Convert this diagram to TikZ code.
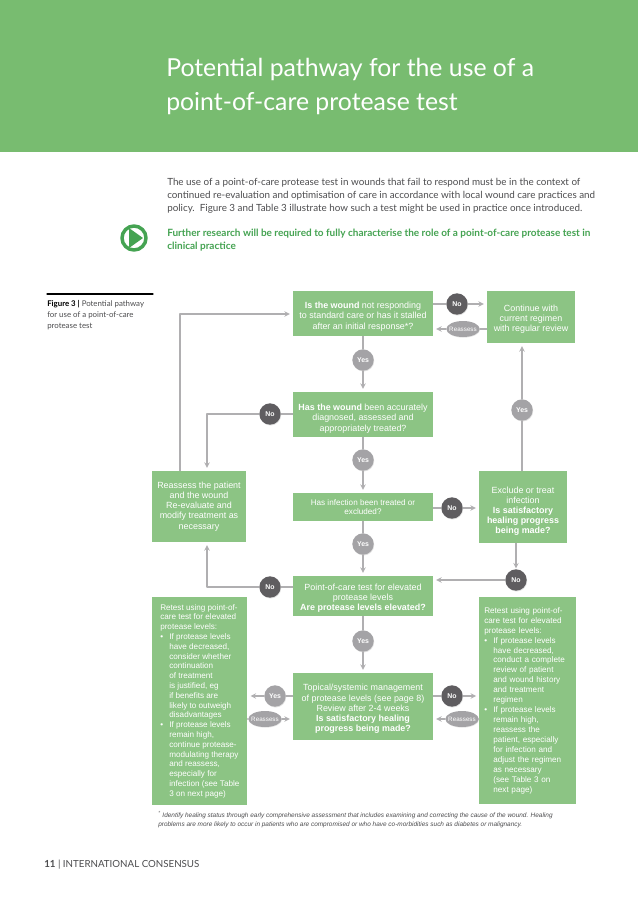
\documentclass[tikz,border=0pt]{standalone}
\usepackage{fontspec}
\setmainfont{Liberation Sans}
\newfontfamily\bodyfont{Lato}
\usetikzlibrary{shadows,shapes.geometric}
\definecolor{bandgreen}{HTML}{78BC70}
\definecolor{boxgreen}{HTML}{8CC484}
\definecolor{leadgreen}{HTML}{45A352}
\definecolor{linegray}{HTML}{B0AFB1}
\definecolor{dotgray}{HTML}{A4A3A6}
\definecolor{nodark}{HTML}{5F5D60}
\definecolor{bodygray}{HTML}{4D4D4F}
\newcommand{\blt}{\makebox[6.8pt][l]{\textbullet}}
\newcommand{\ind}{\hspace*{6.8pt}}
\tikzset{
  flowbox/.style={fill=boxgreen,text=white,align=center,inner sep=0pt,
    font=\fontsize{6.7}{7.6}\selectfont},
  listbox/.style={flowbox,align=left,anchor=north west,
    font=\fontsize{6.1}{7.35}\selectfont},
  yesdot/.style={circle,fill=dotgray,text=white,minimum size=16pt,inner sep=0pt,
    font=\bfseries\fontsize{5.2}{6}\selectfont,
    drop shadow={opacity=.25,shadow xshift=.4pt,shadow yshift=-.6pt}},
  nodot/.style={yesdot,fill=nodark},
  reassess/.style={ellipse,fill=dotgray,text=white,minimum width=25pt,minimum height=12pt,
    inner sep=0pt,font=\fontsize{4.7}{5}\selectfont,
    drop shadow={opacity=.2,shadow xshift=.3pt,shadow yshift=-.5pt}},
  flow/.style={draw=linegray,line width=.8pt},
  flowarrow/.style={flow,->,shorten >=2.2pt},
  para/.style={anchor=base west,inner sep=0pt,align=left}
}
\begin{document}
\begin{tikzpicture}[x=.75pt,y=-.75pt,line join=round,line cap=round,>=stealth]
\useasboundingbox (0,0) rectangle (638,903);
\fill[white] (0,0) rectangle (638,903);
\fill[bandgreen] (0,0) rectangle (638,152);
% heading and lead text
\node[para,text=white,font=\bodyfont\fontsize{18.6}{25.5}\selectfont] (title) at (166,110)
  {Potential pathway for the use of a\\point-of-care protease test};
\node[para,text=bodygray,font=\bodyfont\fontsize{7.38}{9.4}\selectfont] (lead) at (167,211)
  {The use of a point-of-care protease test in wounds that fail to respond must be in the context of\\
   continued re-evaluation and optimisation of care in accordance with local wound care practices and\\
   policy.\ \ Figure 3 and Table 3 illustrate how such a test might be used in practice once introduced.};
\node[para,text=leadgreen,font=\bodyfont\bfseries\fontsize{7.5}{9.7}\selectfont] (further) at (167,249)
  {Further research will be required to fully characterise the role of a point-of-care protease test in\\
   clinical practice};
\node[circle,draw=leadgreen,line width=2.6pt,minimum size=18pt,inner sep=0pt] (playring) at (134,238) {};
\fill[leadgreen] (129,228) -- (143,238) -- (129,248) -- cycle;
% caption
\draw[black,line width=.8pt] (47,294) -- (153,294);
\node[para,text=bodygray,font=\bodyfont\fontsize{5.9}{7.9}\selectfont] (caption) at (47,328)
  {\textcolor{black}{\textbf{Figure 3 |}} Potential pathway\\for use of a point-of-care\\protease test};
% boxes
\node[flowbox,minimum width=105pt,minimum height=33.75pt] (wound) at (363,313.5)
  {\rule{0pt}{9.5pt}\textbf{Is the wound} not responding\\to standard care or has it stalled\\after an initial response*?};
\node[flowbox,minimum width=66pt,minimum height=39pt] (continue) at (531,317)
  {\rule{0pt}{8pt}Continue with\\current regimen\\with regular review};
\node[flowbox,minimum width=105pt,minimum height=33.75pt] (diagnosed) at (363,414.5)
  {\rule{0pt}{11pt}\textbf{Has the wound} been accurately\\diagnosed, assessed and\\appropriately treated?};
\node[flowbox,minimum width=105pt,minimum height=21pt,font=\fontsize{6.1}{7}\selectfont] (infection) at (363,507)
  {Has infection been treated or\\excluded?};
\node[flowbox,minimum width=66pt,minimum height=54pt] (exclude) at (523,507)
  {\rule{0pt}{11pt}Exclude or treat\\infection\\\textbf{Is satisfactory}\\\textbf{healing progress}\\\textbf{being made?}};
\node[flowbox,minimum width=70.5pt,minimum height=53.25pt] (reassessbox) at (199,506.5)
  {Reassess the patient\\and the wound\\Re-evaluate and\\modify treatment as\\necessary};
\node[flowbox,minimum width=105pt,minimum height=30pt] (poc) at (363,596)
  {\rule{0pt}{8pt}Point-of-care test for elevated\\protease levels\\\textbf{Are protease levels elevated?}};
\node[flowbox,minimum width=105pt,minimum height=50.25pt] (topical) at (363,706.5)
  {\rule{0pt}{8.5pt}Topical/systemic management\\of protease levels (see page 8)\\Review after 2-4 weeks\\\textbf{Is satisfactory healing}\\\textbf{progress being made?}};
\node[listbox,minimum width=70.5pt,minimum height=155pt,inner xsep=6pt,inner ysep=5.2pt] (retestl) at (152,597)
  {Retest using point-of-\\care test for elevated\\protease levels:\\
   \blt If protease levels\\\ind have decreased,\\\ind consider whether\\\ind continuation\\\ind of treatment\\\ind is justified, eg\\\ind if benefits are\\\ind likely to outweigh\\\ind disadvantages\\
   \blt If protease levels\\\ind remain high,\\\ind continue protease-\\\ind modulating therapy\\\ind and reassess,\\\ind especially for\\\ind infection (see Table\\\ind 3 on next page)};
\node[listbox,text width=65.15pt,minimum height=155pt,inner xsep=3.8pt,inner ysep=4.2pt,font=\fontsize{6.1}{7.45}\selectfont] (retestr) at (479,597)
  {Retest using point-of-\\care test for elevated\\protease levels:\\
   \blt If protease levels\\\ind have decreased,\\\ind conduct a complete\\\ind review of patient\\\ind and wound history\\\ind and treatment\\\ind regimen\\
   \blt If protease levels\\\ind remain high,\\\ind reassess the\\\ind patient, especially\\\ind for infection and\\\ind adjust the regimen\\\ind as necessary\\\ind (see Table 3 on\\\ind next page)};
% yes / no dots
\foreach \nm/\x/\y in {yesa/363/360,yesb/363/460,yesc/363/544,yesd/363/641,yese/522/410,yesf/275/696}
  \node[yesdot] (\nm) at (\x,\y) {Yes};
\foreach \nm/\x/\y in {noa/457/304,nob/270/414,noc/452/508,nod/516/580,noe/270/587,nof/452/696}
  \node[nodot] (\nm) at (\x,\y) {No};
\foreach \nm/\x/\y in {reassa/463/329,reassb/265/719,reassc/462/719}
  \node[reassess] (\nm) at (\x,\y) {\makebox[0pt]{Reassess}};
% connectors
\coordinate (cornera) at (180,314);
\coordinate (cornerb) at (207,414);
\coordinate (cornerc) at (207,587);
\draw[flow] (wound.south -| yesa) -- (yesa);
\draw[flowarrow] (yesa) -- (diagnosed.north -| yesa);
\draw[flow] (diagnosed.south -| yesb) -- (yesb);
\draw[flowarrow] (yesb) -- (infection.north -| yesb);
\draw[flow] (infection.south -| yesc) -- (yesc);
\draw[flowarrow] (yesc) -- (poc.north -| yesc);
\draw[flow] (poc.south -| yesd) -- (yesd);
\draw[flowarrow] (yesd) -- (topical.north -| yesd);
\draw[flow] (wound.east |- noa) -- (noa);
\draw[flowarrow] (noa) -- (continue.west |- noa);
\draw[flow] (continue.west |- reassa) -- (reassa);
\draw[flowarrow] (reassa) -- (wound.east |- reassa);
\draw[flow] (exclude.north -| yese) -- (yese);
\draw[flowarrow] (yese) -- (continue.south -| yese);
\draw[flow] (diagnosed.west |- nob) -- (nob);
\draw[flowarrow] (nob) -- (cornerb) -- (reassessbox.north -| cornerb);
\draw[flowarrow] (reassessbox.north -| cornera) -- (cornera) -- (wound.west |- cornera);
\draw[flow] (infection.east |- noc) -- (noc);
\draw[flowarrow] (noc) -- (exclude.west |- noc);
\draw[flowarrow,shorten >=.5pt] (exclude.south -| nod) -- (nod.north);
\draw[flowarrow] (nod) -- (poc.east |- nod);
\draw[flow] (poc.west |- noe) -- (noe);
\draw[flowarrow] (noe) -- (cornerc) -- (reassessbox.south -| cornerc);
\draw[flow] (topical.west |- yesf) -- (yesf);
\draw[flowarrow] (yesf) -- (retestl.east |- yesf);
\draw[flow] (retestl.east |- reassb) -- (reassb);
\draw[flowarrow] (reassb) -- (topical.west |- reassb);
\draw[flow] (topical.east |- nof) -- (nof);
\draw[flowarrow] (nof) -- (retestr.west |- nof);
\draw[flow] (retestr.west |- reassc) -- (reassc);
\draw[flowarrow] (reassc) -- (topical.east |- reassc);
% footnote and footer
\node[para,text=bodygray,font=\itshape\fontsize{4.84}{6.4}\selectfont] (footnote) at (158,826)
  {\textsuperscript{*} Identify healing status through early comprehensive assessment that includes examining and correcting the cause of the wound. Healing\\
   problems are more likely to occur in patients who are compromised or who have co-morbidities such as diabetes or malignancy.};
\node[para,text=bodygray,font=\bodyfont\fontsize{7.3}{8}\selectfont] (footer) at (44,867)
  {\textbf{11} | INTERNATIONAL CONSENSUS};
\end{tikzpicture}
\end{document}
